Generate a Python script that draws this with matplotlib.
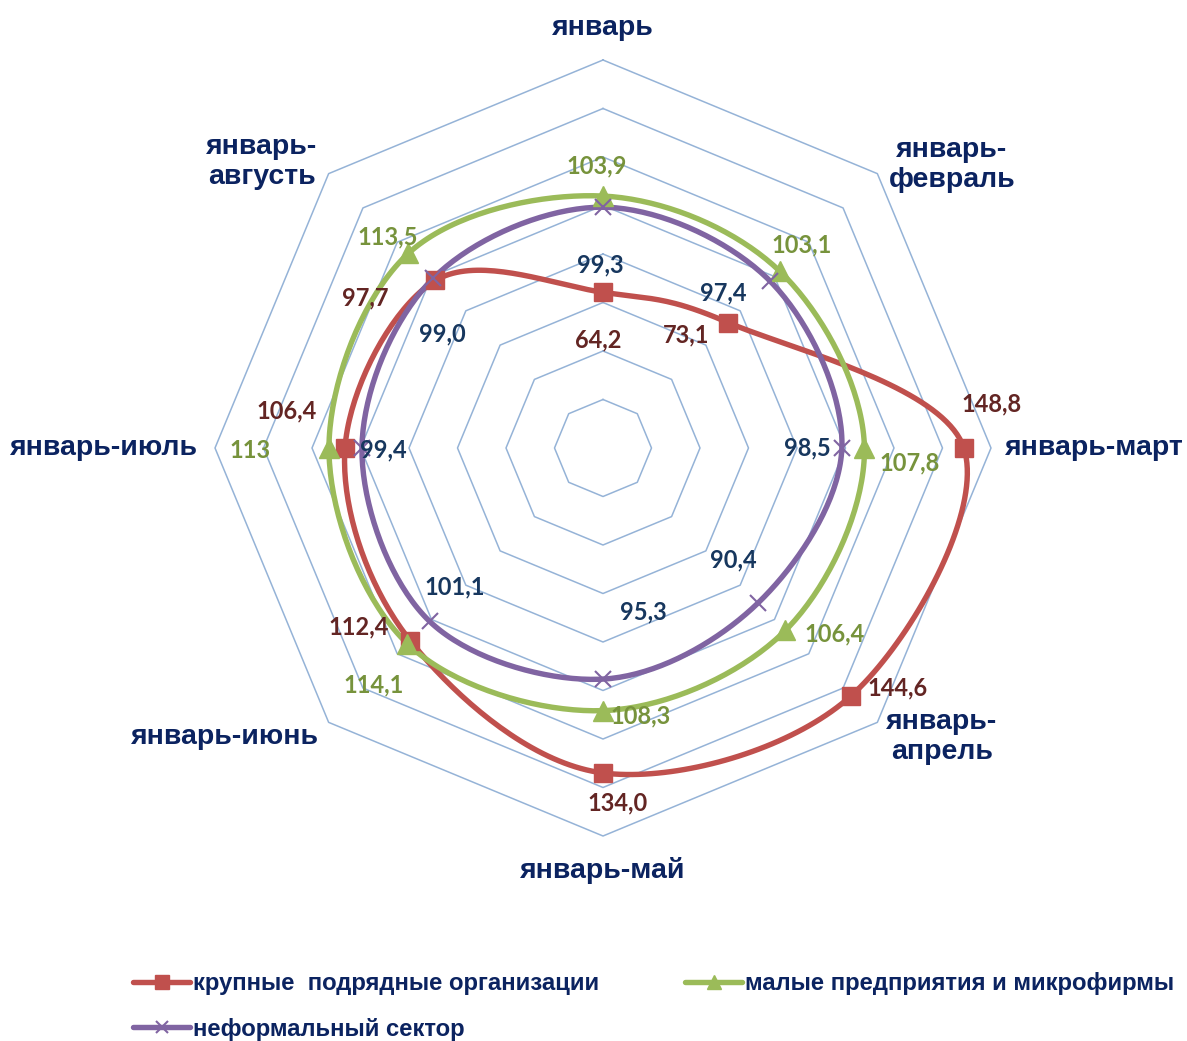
import numpy as np
import matplotlib
matplotlib.use("Agg")
import matplotlib.pyplot as plt
from matplotlib.lines import Line2D

# categories (clockwise from the top)
categories = ["январь", "январь-\nфевраль", "январь-март", "январь-\nапрель",
              "январь-май", "январь-июнь", "январь-июль", "январь-\nавгусть"]

large = [64.2, 73.1, 148.8, 144.6, 134.0, 112.4, 106.4, 97.7]
small = [103.9, 103.1, 107.8, 106.4, 108.3, 114.1, 113.0, 113.5]
informal = [99.3, 97.4, 98.5, 90.4, 95.3, 101.1, 99.4, 99.0]

large_lbl = ["64,2", "73,1", "148,8", "144,6", "134,0", "112,4", "106,4", "97,7"]
small_lbl = ["103,9", "103,1", "107,8", "106,4", "108,3", "114,1", "113", "113,5"]
informal_lbl = ["99,3", "97,4", "98,5", "90,4", "95,3", "101,1", "99,4", "99,0"]

series_names = ["крупные  подрядные организации",
                "малые предприятия и микрофирмы",
                "неформальный сектор"]

# label offsets from each point, in pixels (x right, y up)
large_off = [(-5, -48), (-42, -12), (28, 44), (47, 8), (15, -30), (-52, 14), (-58, 37), (-70, -17)]
small_off = [(-6, 30), (22, 26), (45, -15), (49, -3), (38, -5), (-34, -41), (-79, -2), (-21, 16)]
informal_off = [(-3, -58), (-47, -12), (-34, 0), (-25, 43), (40, 67), (25, 34), (21, -2), (9, -56)]

# category label positions, pixels from centre
cat_pos = [(0, 420), (349, 283), (402, 0), (339, -289), (0, -422), (-378, -289), (-405, 0), (-341, 286)]
cat_ha = ["center", "center", "left", "center", "center", "center", "right", "center"]

W, H = 1187, 1041
cx, cy = 603, 448
scale = 388 / 160.0  # pixels per unit

navy = "#0B2360"
grid_c = "#95B3D7"

fig = plt.figure(figsize=(W / 100, H / 100), dpi=100)
ax = fig.add_axes([0, 0, 1, 1])
ax.set_xlim(-cx / scale, (W - cx) / scale)
ax.set_ylim(-(H - cy) / scale, cy / scale)
ax.set_aspect("equal")
ax.axis("off")

n = len(categories)
ang = np.arange(n) * 2 * np.pi / n


def to_xy(vals):
    v = np.asarray(vals)
    return v * np.sin(ang), v * np.cos(ang)


def smooth_closed(xs, ys, steps=40):
    pts = np.column_stack([xs, ys])
    N = len(pts)
    t = np.linspace(0, 1, steps, endpoint=False)[:, None]
    out = []
    for i in range(N):
        p0, p1, p2, p3 = pts[i - 1], pts[i], pts[(i + 1) % N], pts[(i + 2) % N]
        seg = 0.5 * (2 * p1 + (-p0 + p2) * t + (2 * p0 - 5 * p1 + 4 * p2 - p3) * t ** 2
                     + (-p0 + 3 * p1 - 3 * p2 + p3) * t ** 3)
        out.append(seg)
    out.append(pts[:1])
    return np.vstack(out)


# octagon grid
for r in range(20, 161, 20):
    gx, gy = to_xy([r] * n)
    ax.plot(np.append(gx, gx[0]), np.append(gy, gy[0]), color=grid_c, lw=1.1, zorder=1)

styles = [
    (large, large_lbl, large_off, "#C0504D", "s", 13, 1, "#632523"),
    (small, small_lbl, small_off, "#9BBB59", "^", 14, 1, "#77933C"),
    (informal, informal_lbl, informal_off, "#8064A2", "x", 12, 1.5, "#17375E"),
]

handles = []
for (vals, lbls, offs, col, mk, ms, mew, tc), name in zip(styles, series_names):
    x, y = to_xy(vals)
    c = smooth_closed(x, y)
    ax.plot(c[:, 0], c[:, 1], color=col, lw=3.9, zorder=2, solid_capstyle="round")
    ax.plot(x, y, ls="none", marker=mk, ms=ms, color=col, mec=col, mew=mew, zorder=3)
    handles.append(Line2D([], [], color=col, lw=3.9, marker=mk, ms=ms * 0.75, mec=col,
                          mew=mew, solid_capstyle="round"))
    for xi, yi, s, (dx, dy) in zip(x, y, lbls, offs):
        ax.annotate(s, (xi, yi), xytext=(dx, dy), textcoords="offset pixels",
                    ha="center", va="center", fontsize=17, fontweight="bold",
                    color=tc, family="Lato", zorder=4)

for lab, (px, py), ha in zip(categories, cat_pos, cat_ha):
    ax.text(px / scale, py / scale, lab, ha=ha, va="center", fontsize=20.5,
            fontweight="bold", color=navy, family="Liberation Sans", linespacing=1.2)

order = [0, 2, 1]
leg = fig.legend([handles[i] for i in order], [series_names[i] for i in order],
                 ncol=2, loc="upper left", bbox_to_anchor=(133 / W, 1 - 972 / H),
                 frameon=False, numpoints=1, handlelength=2.4, handletextpad=0.1,
                 columnspacing=3.6, labelspacing=0.95, borderpad=0, borderaxespad=0,
                 prop={"family": "Liberation Sans", "weight": "bold", "size": 17.2})
for t in leg.get_texts():
    t.set_color(navy)

fig.savefig("out.png", dpi=100)
